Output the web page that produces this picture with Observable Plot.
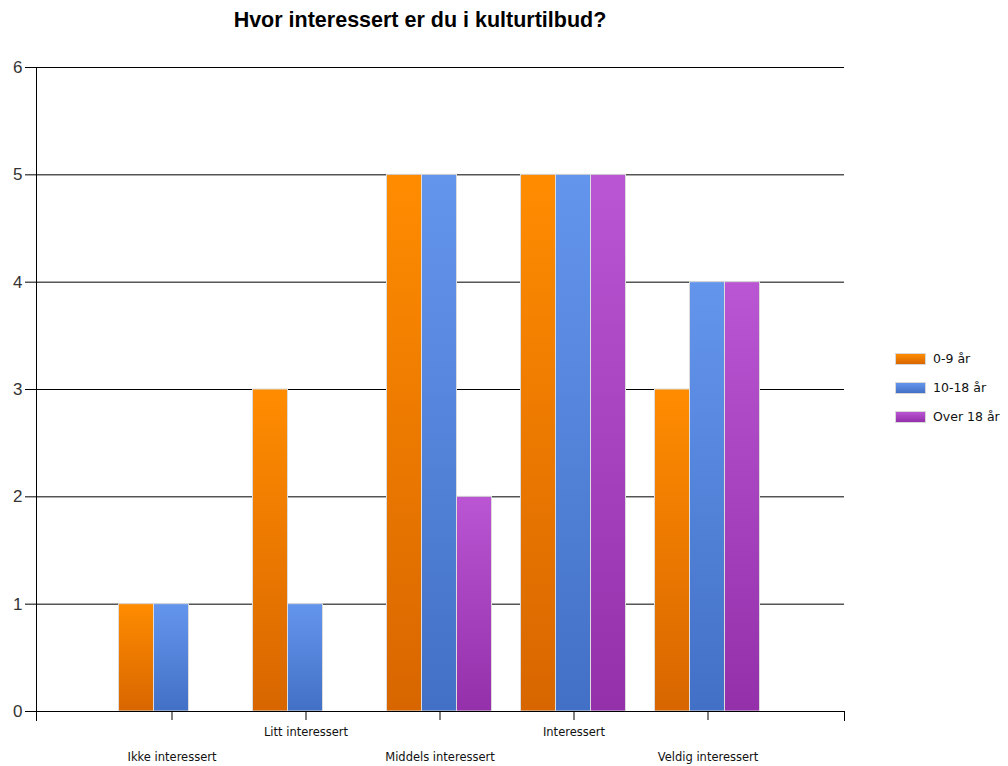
<!DOCTYPE html>
<html>
<head>
<meta charset="utf-8">
<script src="https://cdn.jsdelivr.net/npm/d3@7"></script>
<script src="https://cdn.jsdelivr.net/npm/@observablehq/plot@0.6"></script>
<style>
  html, body { margin: 0; padding: 0; background: #fff; }
  #wrap { position: relative; width: 1008px; height: 766px; font-family: "Liberation Sans", Arial, sans-serif; }
  #title { position: absolute; left: 0; top: 0; width: 840px; height: 45px; text-align: center; font-weight: bold; font-size: 21.5px; line-height: 40px; color: #000; }
  #chart { position: absolute; left: 0; top: 45px; }
  #legend { position: absolute; left: 895px; top: 344px; font-family: "DejaVu Sans", sans-serif; font-size: 12.5px; color: #111; }
  .item { display: flex; align-items: center; height: 29px; }
  .sw { width: 29px; height: 10px; border: 1px solid #d8d8d8; margin-right: 7px; }
</style>
</head>
<body>
<div id="wrap">
  <div id="title">Hvor interessert er du i kulturtilbud?</div>
  <div id="chart"></div>
  <div id="legend"></div>
</div>
<script>
const categories = ["Ikke interessert", "Litt interessert", "Middels interessert", "Interessert", "Veldig interessert"];
const seriesNames = ["0-9 år", "10-18 år", "Over 18 år"];
const values0to9 = [1, 3, 5, 5, 3];
const values10to18 = [1, 1, 5, 5, 4];
const valuesOver18 = [0, 0, 2, 5, 4];
const yTicks = [0, 1, 2, 3, 4, 5, 6];

const seriesValues = [values0to9, values10to18, valuesOver18];
const topColors = ["#ff8c00", "#6495ed", "#ba55d3"];
const bottomColors = ["#d86600", "#4270c6", "#9430aa"];
const gradIds = ["gOrange", "gBlue", "gPurple"];
const offsets = [-35, 0, 35];

const data = [];
seriesNames.forEach((s, si) => categories.forEach((c, ci) => data.push({category: c, series: s, si, value: seriesValues[si][ci]})));

const W = 1008, H = 721;
const mT = 22, mB = 55, mL = 36, mR = 164;
const plotH = H - mT - mB;

const barMarks = seriesNames.map((s, si) => Plot.barY(data.filter(d => d.si === si && d.value > 0), {
  x: "category", y: "value",
  fill: `url(#${gradIds[si]})`,
  stroke: "#dcdcdc", strokeWidth: 1,
  dx: offsets[si] - 1.5
}));

const even = categories.filter((c, i) => i % 2 === 0);
const odd = categories.filter((c, i) => i % 2 === 1);

const chart = Plot.plot({
  width: W, height: H,
  marginTop: mT, marginBottom: mB, marginLeft: mL, marginRight: mR,
  style: {fontFamily: "Liberation Sans, Arial, sans-serif", background: "#fff", color: "#000"},
  x: {type: "band", domain: categories, paddingInner: 0.74, paddingOuter: 0.87, align: 0.5, label: null},
  y: {domain: [0, 6], label: null},
  marks: [
    Plot.gridY(yTicks, {stroke: "#000", strokeOpacity: 1, strokeWidth: 1}),
    ...barMarks,
    Plot.axisY(yTicks, {tickSize: 11, tickPadding: 3, fontSize: 17, fill: "#333", stroke: "#000", strokeOpacity: 1, label: null, tickFormat: d => String(d)}),
    Plot.frame({anchor: "left", stroke: "#000", insetBottom: -9}),
    Plot.frame({anchor: "right", stroke: "#000", insetTop: plotH, insetBottom: -9}),
    Plot.ruleY([0], {stroke: "#000"}),
    Plot.axisX(odd, {tickSize: 9, tickPadding: 7, fontSize: 11.5, fontFamily: "DejaVu Sans, sans-serif", fill: "#111", stroke: "#000", strokeOpacity: 1, label: null, dx: -1}),
    Plot.axisX(even, {tickSize: 9, tickPadding: 32, fontSize: 11.5, fontFamily: "DejaVu Sans, sans-serif", fill: "#111", stroke: "#000", strokeOpacity: 1, label: null, dx: -1})
  ]
});

// gradients
const defs = d3.select(chart).insert("defs", ":first-child");
gradIds.forEach((id, i) => {
  const g = defs.append("linearGradient").attr("id", id).attr("x1", 0).attr("y1", 0).attr("x2", 0).attr("y2", 1);
  g.append("stop").attr("offset", "0%").attr("stop-color", topColors[i]);
  g.append("stop").attr("offset", "100%").attr("stop-color", bottomColors[i]);
});

document.getElementById("chart").appendChild(chart);

const legend = document.getElementById("legend");
seriesNames.forEach((s, i) => {
  const item = document.createElement("div");
  item.className = "item";
  const sw = document.createElement("div");
  sw.className = "sw";
  sw.style.background = `linear-gradient(${topColors[i]}, ${bottomColors[i]})`;
  const t = document.createElement("span");
  t.textContent = s;
  item.appendChild(sw);
  item.appendChild(t);
  legend.appendChild(item);
});
</script>
</body>
</html>
